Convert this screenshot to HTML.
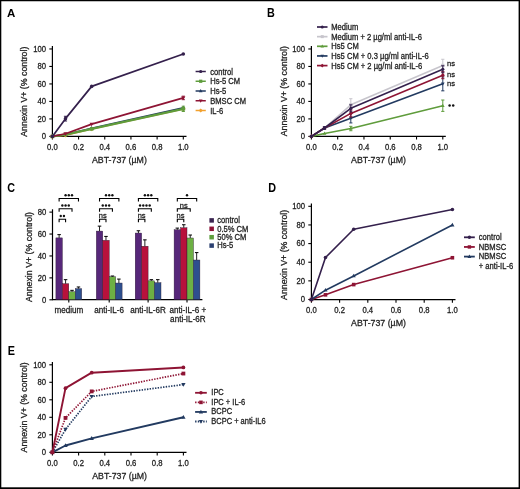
<!DOCTYPE html>
<html><head><meta charset="utf-8"><style>
html,body{margin:0;padding:0;background:#fff;width:520px;height:489px;overflow:hidden;}
svg text{font-family:"Liberation Sans", sans-serif;}
</style></head><body>
<svg width="520" height="489" viewBox="0 0 520 489" style="position:absolute;left:0;top:0;will-change:transform" font-family='"Liberation Sans", sans-serif'>
<text transform="translate(7.10,16.90) scale(1.0,1.0)" font-size="11.5" text-anchor="start" fill="#000" stroke="#000" stroke-width="0" font-weight="bold" >A</text>
<line x1="52.40" y1="46.00" x2="52.40" y2="136.90" stroke="#000" stroke-width="1.2" />
<line x1="49.30" y1="136.40" x2="52.40" y2="136.40" stroke="#000" stroke-width="1.1" />
<text transform="translate(46.10,139.30) scale(1.0,1.09)" font-size="7.7" text-anchor="end" fill="#222" stroke="#222" stroke-width="0.26" font-weight="normal" >0</text>
<line x1="49.30" y1="118.91" x2="52.40" y2="118.91" stroke="#000" stroke-width="1.1" />
<text transform="translate(46.10,121.81) scale(1.0,1.09)" font-size="7.7" text-anchor="end" fill="#222" stroke="#222" stroke-width="0.26" font-weight="normal" >20</text>
<line x1="49.30" y1="101.42" x2="52.40" y2="101.42" stroke="#000" stroke-width="1.1" />
<text transform="translate(46.10,104.32) scale(1.0,1.09)" font-size="7.7" text-anchor="end" fill="#222" stroke="#222" stroke-width="0.26" font-weight="normal" >40</text>
<line x1="49.30" y1="83.94" x2="52.40" y2="83.94" stroke="#000" stroke-width="1.1" />
<text transform="translate(46.10,86.84) scale(1.0,1.09)" font-size="7.7" text-anchor="end" fill="#222" stroke="#222" stroke-width="0.26" font-weight="normal" >60</text>
<line x1="49.30" y1="66.45" x2="52.40" y2="66.45" stroke="#000" stroke-width="1.1" />
<text transform="translate(46.10,69.35) scale(1.0,1.09)" font-size="7.7" text-anchor="end" fill="#222" stroke="#222" stroke-width="0.26" font-weight="normal" >80</text>
<line x1="49.30" y1="48.96" x2="52.40" y2="48.96" stroke="#000" stroke-width="1.1" />
<text transform="translate(46.10,51.86) scale(1.0,1.09)" font-size="7.7" text-anchor="end" fill="#222" stroke="#222" stroke-width="0.26" font-weight="normal" >100</text>
<line x1="51.80" y1="136.40" x2="186.50" y2="136.40" stroke="#000" stroke-width="1.2" />
<line x1="52.40" y1="136.40" x2="52.40" y2="139.50" stroke="#000" stroke-width="1.1" />
<text transform="translate(52.40,149.75) scale(1.0,1.09)" font-size="7.7" text-anchor="middle" fill="#222" stroke="#222" stroke-width="0.26" font-weight="normal" >0.0</text>
<line x1="78.58" y1="136.40" x2="78.58" y2="139.50" stroke="#000" stroke-width="1.1" />
<text transform="translate(78.58,149.75) scale(1.0,1.09)" font-size="7.7" text-anchor="middle" fill="#222" stroke="#222" stroke-width="0.26" font-weight="normal" >0.2</text>
<line x1="104.76" y1="136.40" x2="104.76" y2="139.50" stroke="#000" stroke-width="1.1" />
<text transform="translate(104.76,149.75) scale(1.0,1.09)" font-size="7.7" text-anchor="middle" fill="#222" stroke="#222" stroke-width="0.26" font-weight="normal" >0.4</text>
<line x1="130.94" y1="136.40" x2="130.94" y2="139.50" stroke="#000" stroke-width="1.1" />
<text transform="translate(130.94,149.75) scale(1.0,1.09)" font-size="7.7" text-anchor="middle" fill="#222" stroke="#222" stroke-width="0.26" font-weight="normal" >0.6</text>
<line x1="157.12" y1="136.40" x2="157.12" y2="139.50" stroke="#000" stroke-width="1.1" />
<text transform="translate(157.12,149.75) scale(1.0,1.09)" font-size="7.7" text-anchor="middle" fill="#222" stroke="#222" stroke-width="0.26" font-weight="normal" >0.8</text>
<line x1="183.30" y1="136.40" x2="183.30" y2="139.50" stroke="#000" stroke-width="1.1" />
<text transform="translate(183.30,149.75) scale(1.0,1.09)" font-size="7.7" text-anchor="middle" fill="#222" stroke="#222" stroke-width="0.26" font-weight="normal" >1.0</text>
<text transform="translate(119.40,162.90) scale(1.0,1.09)" font-size="8.8" text-anchor="middle" fill="#222" stroke="#222" stroke-width="0.26" font-weight="normal" >ABT-737 (µM)</text>
<text x="0" y="0" font-size="8.8" text-anchor="middle" fill="#222" stroke="#222" stroke-width="0.26" transform="translate(27.10,91.70) rotate(-90) scale(1,1.09)">Annexin V+ (% control)</text>
<polyline points="52.40,136.40 65.49,135.09 91.67,128.97 183.30,108.86" fill="none" stroke="#f2a12e" stroke-width="1.7" stroke-linejoin="round"/>
<polygon points="52.40,134.06 54.74,136.40 52.40,138.74 50.06,136.40" fill="#f2a12e"/>
<polygon points="65.49,132.75 67.83,135.09 65.49,137.43 63.15,135.09" fill="#f2a12e"/>
<polygon points="91.67,126.63 94.01,128.97 91.67,131.31 89.33,128.97" fill="#f2a12e"/>
<polygon points="183.30,106.52 185.64,108.86 183.30,111.20 180.96,108.86" fill="#f2a12e"/>
<polyline points="52.40,136.40 65.49,134.65 91.67,128.27 183.30,107.72" fill="none" stroke="#223a60" stroke-width="1.7" stroke-linejoin="round"/>
<polygon points="52.40,134.24 54.47,137.84 50.33,137.84" fill="#223a60"/>
<polygon points="65.49,132.49 67.56,136.09 63.42,136.09" fill="#223a60"/>
<polygon points="91.67,126.11 93.74,129.71 89.60,129.71" fill="#223a60"/>
<polygon points="183.30,105.56 185.37,109.16 181.23,109.16" fill="#223a60"/>
<polyline points="52.40,136.40 65.49,134.65 91.67,128.88 183.30,108.86" fill="none" stroke="#5f9c3c" stroke-width="2.1" stroke-linejoin="round"/>
<rect x="50.60" y="134.60" width="3.60" height="3.60" fill="#5f9c3c"/>
<rect x="63.69" y="132.85" width="3.60" height="3.60" fill="#5f9c3c"/>
<rect x="89.87" y="127.08" width="3.60" height="3.60" fill="#5f9c3c"/>
<line x1="183.30" y1="106.23" x2="183.30" y2="111.48" stroke="#5f9c3c" stroke-width="1" />
<line x1="181.70" y1="106.23" x2="184.90" y2="106.23" stroke="#5f9c3c" stroke-width="1" />
<line x1="181.70" y1="111.48" x2="184.90" y2="111.48" stroke="#5f9c3c" stroke-width="1" />
<rect x="181.50" y="107.06" width="3.60" height="3.60" fill="#5f9c3c"/>
<polyline points="52.40,136.40 65.49,133.78 91.67,124.16 183.30,97.93" fill="none" stroke="#8e1434" stroke-width="1.7" stroke-linejoin="round"/>
<polygon points="52.40,138.56 54.47,134.96 50.33,134.96" fill="#8e1434"/>
<polygon points="65.49,135.94 67.56,132.34 63.42,132.34" fill="#8e1434"/>
<polygon points="91.67,126.32 93.74,122.72 89.60,122.72" fill="#8e1434"/>
<line x1="183.30" y1="96.18" x2="183.30" y2="99.68" stroke="#8e1434" stroke-width="1" />
<line x1="181.70" y1="96.18" x2="184.90" y2="96.18" stroke="#8e1434" stroke-width="1" />
<line x1="181.70" y1="99.68" x2="184.90" y2="99.68" stroke="#8e1434" stroke-width="1" />
<polygon points="183.30,100.09 185.37,96.49 181.23,96.49" fill="#8e1434"/>
<polyline points="52.40,136.40 65.49,118.65 91.67,86.38 183.30,54.03" fill="none" stroke="#34204c" stroke-width="1.7" stroke-linejoin="round"/>
<circle cx="52.40" cy="136.40" r="1.80" fill="#34204c"/>
<line x1="65.49" y1="116.29" x2="65.49" y2="121.01" stroke="#34204c" stroke-width="1" />
<line x1="63.89" y1="116.29" x2="67.09" y2="116.29" stroke="#34204c" stroke-width="1" />
<line x1="63.89" y1="121.01" x2="67.09" y2="121.01" stroke="#34204c" stroke-width="1" />
<circle cx="65.49" cy="118.65" r="1.80" fill="#34204c"/>
<circle cx="91.67" cy="86.38" r="1.80" fill="#34204c"/>
<circle cx="183.30" cy="54.03" r="1.80" fill="#34204c"/>
<line x1="195.60" y1="71.50" x2="205.80" y2="71.50" stroke="#34204c" stroke-width="1.5" />
<circle cx="200.70" cy="71.50" r="1.60" fill="#34204c"/>
<text transform="translate(210.20,74.50) scale(1.0,1.09)" font-size="7.6" text-anchor="start" fill="#222" stroke="#222" stroke-width="0.26" font-weight="normal" >control</text>
<line x1="195.60" y1="81.25" x2="205.80" y2="81.25" stroke="#5f9c3c" stroke-width="1.5" />
<rect x="199.10" y="79.65" width="3.20" height="3.20" fill="#5f9c3c"/>
<text transform="translate(210.20,84.25) scale(1.0,1.09)" font-size="7.6" text-anchor="start" fill="#222" stroke="#222" stroke-width="0.26" font-weight="normal" >Hs-5 CM</text>
<line x1="195.60" y1="91.00" x2="205.80" y2="91.00" stroke="#223a60" stroke-width="1.5" />
<polygon points="200.70,89.08 202.54,92.28 198.86,92.28" fill="#223a60"/>
<text transform="translate(210.20,94.00) scale(1.0,1.09)" font-size="7.6" text-anchor="start" fill="#222" stroke="#222" stroke-width="0.26" font-weight="normal" >Hs-5</text>
<line x1="195.60" y1="100.75" x2="205.80" y2="100.75" stroke="#8e1434" stroke-width="1.5" />
<polygon points="200.70,102.67 202.54,99.47 198.86,99.47" fill="#8e1434"/>
<text transform="translate(210.20,103.75) scale(1.0,1.09)" font-size="7.6" text-anchor="start" fill="#222" stroke="#222" stroke-width="0.26" font-weight="normal" >BMSC CM</text>
<line x1="195.60" y1="110.50" x2="205.80" y2="110.50" stroke="#f2a12e" stroke-width="1.5" />
<polygon points="200.70,108.42 202.78,110.50 200.70,112.58 198.62,110.50" fill="#f2a12e"/>
<text transform="translate(210.20,113.50) scale(1.0,1.09)" font-size="7.6" text-anchor="start" fill="#222" stroke="#222" stroke-width="0.26" font-weight="normal" >IL-6</text>
<text transform="translate(266.90,17.40) scale(0.94,1.08)" font-size="11.5" text-anchor="start" fill="#000" stroke="#000" stroke-width="0" font-weight="bold" >B</text>
<line x1="311.40" y1="46.00" x2="311.40" y2="136.90" stroke="#000" stroke-width="1.2" />
<line x1="308.30" y1="136.40" x2="311.40" y2="136.40" stroke="#000" stroke-width="1.1" />
<text transform="translate(305.10,139.30) scale(1.0,1.09)" font-size="7.7" text-anchor="end" fill="#222" stroke="#222" stroke-width="0.26" font-weight="normal" >0</text>
<line x1="308.30" y1="118.91" x2="311.40" y2="118.91" stroke="#000" stroke-width="1.1" />
<text transform="translate(305.10,121.81) scale(1.0,1.09)" font-size="7.7" text-anchor="end" fill="#222" stroke="#222" stroke-width="0.26" font-weight="normal" >20</text>
<line x1="308.30" y1="101.42" x2="311.40" y2="101.42" stroke="#000" stroke-width="1.1" />
<text transform="translate(305.10,104.32) scale(1.0,1.09)" font-size="7.7" text-anchor="end" fill="#222" stroke="#222" stroke-width="0.26" font-weight="normal" >40</text>
<line x1="308.30" y1="83.94" x2="311.40" y2="83.94" stroke="#000" stroke-width="1.1" />
<text transform="translate(305.10,86.84) scale(1.0,1.09)" font-size="7.7" text-anchor="end" fill="#222" stroke="#222" stroke-width="0.26" font-weight="normal" >60</text>
<line x1="308.30" y1="66.45" x2="311.40" y2="66.45" stroke="#000" stroke-width="1.1" />
<text transform="translate(305.10,69.35) scale(1.0,1.09)" font-size="7.7" text-anchor="end" fill="#222" stroke="#222" stroke-width="0.26" font-weight="normal" >80</text>
<line x1="308.30" y1="48.96" x2="311.40" y2="48.96" stroke="#000" stroke-width="1.1" />
<text transform="translate(305.10,51.86) scale(1.0,1.09)" font-size="7.7" text-anchor="end" fill="#222" stroke="#222" stroke-width="0.26" font-weight="normal" >100</text>
<line x1="310.80" y1="136.40" x2="445.80" y2="136.40" stroke="#000" stroke-width="1.2" />
<line x1="311.40" y1="136.40" x2="311.40" y2="139.50" stroke="#000" stroke-width="1.1" />
<text transform="translate(311.40,149.75) scale(1.0,1.09)" font-size="7.7" text-anchor="middle" fill="#222" stroke="#222" stroke-width="0.26" font-weight="normal" >0.0</text>
<line x1="337.68" y1="136.40" x2="337.68" y2="139.50" stroke="#000" stroke-width="1.1" />
<text transform="translate(337.68,149.75) scale(1.0,1.09)" font-size="7.7" text-anchor="middle" fill="#222" stroke="#222" stroke-width="0.26" font-weight="normal" >0.2</text>
<line x1="363.96" y1="136.40" x2="363.96" y2="139.50" stroke="#000" stroke-width="1.1" />
<text transform="translate(363.96,149.75) scale(1.0,1.09)" font-size="7.7" text-anchor="middle" fill="#222" stroke="#222" stroke-width="0.26" font-weight="normal" >0.4</text>
<line x1="390.24" y1="136.40" x2="390.24" y2="139.50" stroke="#000" stroke-width="1.1" />
<text transform="translate(390.24,149.75) scale(1.0,1.09)" font-size="7.7" text-anchor="middle" fill="#222" stroke="#222" stroke-width="0.26" font-weight="normal" >0.6</text>
<line x1="416.52" y1="136.40" x2="416.52" y2="139.50" stroke="#000" stroke-width="1.1" />
<text transform="translate(416.52,149.75) scale(1.0,1.09)" font-size="7.7" text-anchor="middle" fill="#222" stroke="#222" stroke-width="0.26" font-weight="normal" >0.8</text>
<line x1="442.80" y1="136.40" x2="442.80" y2="139.50" stroke="#000" stroke-width="1.1" />
<text transform="translate(442.80,149.75) scale(1.0,1.09)" font-size="7.7" text-anchor="middle" fill="#222" stroke="#222" stroke-width="0.26" font-weight="normal" >1.0</text>
<text transform="translate(378.50,162.90) scale(1.0,1.09)" font-size="8.8" text-anchor="middle" fill="#222" stroke="#222" stroke-width="0.26" font-weight="normal" >ABT-737 (µM)</text>
<text x="0" y="0" font-size="8.8" text-anchor="middle" fill="#222" stroke="#222" stroke-width="0.26" transform="translate(286.80,91.20) rotate(-90) scale(1,1.09)">Annexin V+ (% control)</text>
<polyline points="311.40,136.40 324.54,128.01 350.82,104.83 442.80,65.40" fill="none" stroke="#c7c5cc" stroke-width="1.6" stroke-linejoin="round"/>
<rect x="309.80" y="134.80" width="3.20" height="3.20" fill="#c7c5cc"/>
<rect x="322.94" y="126.41" width="3.20" height="3.20" fill="#c7c5cc"/>
<line x1="350.82" y1="98.71" x2="350.82" y2="110.95" stroke="#c7c5cc" stroke-width="1" />
<line x1="349.22" y1="98.71" x2="352.42" y2="98.71" stroke="#c7c5cc" stroke-width="1" />
<line x1="349.22" y1="110.95" x2="352.42" y2="110.95" stroke="#c7c5cc" stroke-width="1" />
<rect x="349.22" y="103.23" width="3.20" height="3.20" fill="#c7c5cc"/>
<line x1="442.80" y1="59.28" x2="442.80" y2="71.52" stroke="#c7c5cc" stroke-width="1" />
<line x1="441.20" y1="59.28" x2="444.40" y2="59.28" stroke="#c7c5cc" stroke-width="1" />
<line x1="441.20" y1="71.52" x2="444.40" y2="71.52" stroke="#c7c5cc" stroke-width="1" />
<rect x="441.20" y="63.80" width="3.20" height="3.20" fill="#c7c5cc"/>
<polyline points="311.40,136.40 324.54,133.51 350.82,128.53 442.80,105.71" fill="none" stroke="#5f9c3c" stroke-width="1.6" stroke-linejoin="round"/>
<polygon points="311.40,134.48 313.24,137.68 309.56,137.68" fill="#5f9c3c"/>
<polygon points="324.54,131.59 326.38,134.79 322.70,134.79" fill="#5f9c3c"/>
<line x1="350.82" y1="126.34" x2="350.82" y2="130.72" stroke="#5f9c3c" stroke-width="1" />
<line x1="349.22" y1="126.34" x2="352.42" y2="126.34" stroke="#5f9c3c" stroke-width="1" />
<line x1="349.22" y1="130.72" x2="352.42" y2="130.72" stroke="#5f9c3c" stroke-width="1" />
<polygon points="350.82,126.61 352.66,129.81 348.98,129.81" fill="#5f9c3c"/>
<line x1="442.80" y1="100.02" x2="442.80" y2="111.39" stroke="#5f9c3c" stroke-width="1" />
<line x1="441.20" y1="100.02" x2="444.40" y2="100.02" stroke="#5f9c3c" stroke-width="1" />
<line x1="441.20" y1="111.39" x2="444.40" y2="111.39" stroke="#5f9c3c" stroke-width="1" />
<polygon points="442.80,103.79 444.64,106.99 440.96,106.99" fill="#5f9c3c"/>
<polyline points="311.40,136.40 324.54,128.01 350.82,118.13 442.80,83.85" fill="none" stroke="#223a60" stroke-width="1.6" stroke-linejoin="round"/>
<polygon points="311.40,138.32 313.24,135.12 309.56,135.12" fill="#223a60"/>
<polygon points="324.54,129.93 326.38,126.73 322.70,126.73" fill="#223a60"/>
<line x1="350.82" y1="113.32" x2="350.82" y2="122.93" stroke="#223a60" stroke-width="1" />
<line x1="349.22" y1="113.32" x2="352.42" y2="113.32" stroke="#223a60" stroke-width="1" />
<line x1="349.22" y1="122.93" x2="352.42" y2="122.93" stroke="#223a60" stroke-width="1" />
<polygon points="350.82,120.05 352.66,116.85 348.98,116.85" fill="#223a60"/>
<line x1="442.80" y1="76.85" x2="442.80" y2="90.84" stroke="#223a60" stroke-width="1" />
<line x1="441.20" y1="76.85" x2="444.40" y2="76.85" stroke="#223a60" stroke-width="1" />
<line x1="441.20" y1="90.84" x2="444.40" y2="90.84" stroke="#223a60" stroke-width="1" />
<polygon points="442.80,85.77 444.64,82.57 440.96,82.57" fill="#223a60"/>
<polyline points="311.40,136.40 324.54,128.01 350.82,113.40 442.80,75.19" fill="none" stroke="#8e1434" stroke-width="1.6" stroke-linejoin="round"/>
<polygon points="311.40,134.32 313.48,136.40 311.40,138.48 309.32,136.40" fill="#8e1434"/>
<polygon points="324.54,125.93 326.62,128.01 324.54,130.09 322.46,128.01" fill="#8e1434"/>
<line x1="350.82" y1="109.91" x2="350.82" y2="116.90" stroke="#8e1434" stroke-width="1" />
<line x1="349.22" y1="109.91" x2="352.42" y2="109.91" stroke="#8e1434" stroke-width="1" />
<line x1="349.22" y1="116.90" x2="352.42" y2="116.90" stroke="#8e1434" stroke-width="1" />
<polygon points="350.82,111.32 352.90,113.40 350.82,115.48 348.74,113.40" fill="#8e1434"/>
<line x1="442.80" y1="71.69" x2="442.80" y2="78.69" stroke="#8e1434" stroke-width="1" />
<line x1="441.20" y1="71.69" x2="444.40" y2="71.69" stroke="#8e1434" stroke-width="1" />
<line x1="441.20" y1="78.69" x2="444.40" y2="78.69" stroke="#8e1434" stroke-width="1" />
<polygon points="442.80,73.11 444.88,75.19 442.80,77.27 440.72,75.19" fill="#8e1434"/>
<polyline points="311.40,136.40 324.54,128.01 350.82,108.33 442.80,69.25" fill="none" stroke="#34204c" stroke-width="1.6" stroke-linejoin="round"/>
<circle cx="311.40" cy="136.40" r="1.60" fill="#34204c"/>
<line x1="324.54" y1="126.69" x2="324.54" y2="129.32" stroke="#34204c" stroke-width="1" />
<line x1="322.94" y1="126.69" x2="326.14" y2="126.69" stroke="#34204c" stroke-width="1" />
<line x1="322.94" y1="129.32" x2="326.14" y2="129.32" stroke="#34204c" stroke-width="1" />
<circle cx="324.54" cy="128.01" r="1.60" fill="#34204c"/>
<line x1="350.82" y1="104.83" x2="350.82" y2="111.83" stroke="#34204c" stroke-width="1" />
<line x1="349.22" y1="104.83" x2="352.42" y2="104.83" stroke="#34204c" stroke-width="1" />
<line x1="349.22" y1="111.83" x2="352.42" y2="111.83" stroke="#34204c" stroke-width="1" />
<circle cx="350.82" cy="108.33" r="1.60" fill="#34204c"/>
<line x1="442.80" y1="65.75" x2="442.80" y2="72.74" stroke="#34204c" stroke-width="1" />
<line x1="441.20" y1="65.75" x2="444.40" y2="65.75" stroke="#34204c" stroke-width="1" />
<line x1="441.20" y1="72.74" x2="444.40" y2="72.74" stroke="#34204c" stroke-width="1" />
<circle cx="442.80" cy="69.25" r="1.60" fill="#34204c"/>
<line x1="317.00" y1="27.00" x2="327.50" y2="27.00" stroke="#34204c" stroke-width="1.7" />
<circle cx="322.25" cy="27.00" r="1.50" fill="#34204c"/>
<text transform="translate(331.30,30.00) scale(1.0,1.09)" font-size="7.6" text-anchor="start" fill="#222" stroke="#222" stroke-width="0.26" font-weight="normal" >Medium</text>
<line x1="317.00" y1="36.65" x2="327.50" y2="36.65" stroke="#c7c5cc" stroke-width="1.7" />
<rect x="320.75" y="35.15" width="3.00" height="3.00" fill="#c7c5cc"/>
<text transform="translate(331.30,39.65) scale(1.0,1.09)" font-size="7.6" text-anchor="start" fill="#222" stroke="#222" stroke-width="0.26" font-weight="normal" >Medium + 2 µg/ml anti-IL-6</text>
<line x1="317.00" y1="46.30" x2="327.50" y2="46.30" stroke="#5f9c3c" stroke-width="1.7" />
<polygon points="322.25,44.50 323.98,47.50 320.52,47.50" fill="#5f9c3c"/>
<text transform="translate(331.30,49.30) scale(1.0,1.09)" font-size="7.6" text-anchor="start" fill="#222" stroke="#222" stroke-width="0.26" font-weight="normal" >Hs5 CM</text>
<line x1="317.00" y1="55.95" x2="327.50" y2="55.95" stroke="#223a60" stroke-width="1.7" />
<polygon points="322.25,57.75 323.98,54.75 320.52,54.75" fill="#223a60"/>
<text transform="translate(331.30,58.95) scale(1.0,1.09)" font-size="7.6" text-anchor="start" fill="#222" stroke="#222" stroke-width="0.26" font-weight="normal" >Hs5 CM + 0.3 µg/ml anti-IL-6</text>
<line x1="317.00" y1="65.60" x2="327.50" y2="65.60" stroke="#8e1434" stroke-width="1.7" />
<polygon points="322.25,63.65 324.20,65.60 322.25,67.55 320.30,65.60" fill="#8e1434"/>
<text transform="translate(331.30,68.60) scale(1.0,1.09)" font-size="7.6" text-anchor="start" fill="#222" stroke="#222" stroke-width="0.26" font-weight="normal" >Hs5 CM + 2 µg/ml anti-IL-6</text>
<text transform="translate(447.00,66.00) scale(1.0,1.0)" font-size="7.6" text-anchor="start" fill="#222" stroke="#222" stroke-width="0.26" font-weight="normal" >ns</text>
<text transform="translate(447.00,77.10) scale(1.0,1.0)" font-size="7.6" text-anchor="start" fill="#222" stroke="#222" stroke-width="0.26" font-weight="normal" >ns</text>
<text transform="translate(447.00,85.60) scale(1.0,1.0)" font-size="7.6" text-anchor="start" fill="#222" stroke="#222" stroke-width="0.26" font-weight="normal" >ns</text>
<circle cx="449.6" cy="105.4" r="1.25" fill="#111"/>
<circle cx="453.2" cy="105.4" r="1.25" fill="#111"/>
<text transform="translate(7.30,191.90) scale(0.94,1.08)" font-size="11.5" text-anchor="start" fill="#000" stroke="#000" stroke-width="0" font-weight="bold" >C</text>
<line x1="52.50" y1="209.30" x2="52.50" y2="300.10" stroke="#000" stroke-width="1.2" />
<line x1="49.40" y1="299.80" x2="52.50" y2="299.80" stroke="#000" stroke-width="1.1" />
<text transform="translate(46.20,302.70) scale(1.0,1.09)" font-size="7.7" text-anchor="end" fill="#222" stroke="#222" stroke-width="0.26" font-weight="normal" >0</text>
<line x1="49.40" y1="277.88" x2="52.50" y2="277.88" stroke="#000" stroke-width="1.1" />
<text transform="translate(46.20,280.78) scale(1.0,1.09)" font-size="7.7" text-anchor="end" fill="#222" stroke="#222" stroke-width="0.26" font-weight="normal" >20</text>
<line x1="49.40" y1="255.96" x2="52.50" y2="255.96" stroke="#000" stroke-width="1.1" />
<text transform="translate(46.20,258.86) scale(1.0,1.09)" font-size="7.7" text-anchor="end" fill="#222" stroke="#222" stroke-width="0.26" font-weight="normal" >40</text>
<line x1="49.40" y1="234.04" x2="52.50" y2="234.04" stroke="#000" stroke-width="1.1" />
<text transform="translate(46.20,236.94) scale(1.0,1.09)" font-size="7.7" text-anchor="end" fill="#222" stroke="#222" stroke-width="0.26" font-weight="normal" >60</text>
<line x1="49.40" y1="212.12" x2="52.50" y2="212.12" stroke="#000" stroke-width="1.1" />
<text transform="translate(46.20,215.02) scale(1.0,1.09)" font-size="7.7" text-anchor="end" fill="#222" stroke="#222" stroke-width="0.26" font-weight="normal" >80</text>
<line x1="51.90" y1="299.60" x2="202.40" y2="299.60" stroke="#000" stroke-width="1.2" />
<line x1="68.80" y1="299.60" x2="68.80" y2="302.60" stroke="#000" stroke-width="1.1" />
<rect x="55.90" y="237.88" width="6.45" height="61.72" fill="#57277a" stroke="#2a1a30" stroke-width="0.4"/>
<line x1="59.12" y1="234.59" x2="59.12" y2="237.88" stroke="#222" stroke-width="1" />
<line x1="57.38" y1="234.59" x2="60.88" y2="234.59" stroke="#111" stroke-width="1.1" />
<rect x="62.35" y="283.69" width="6.45" height="15.91" fill="#b8113c" stroke="#2a1a30" stroke-width="0.4"/>
<line x1="65.58" y1="279.63" x2="65.58" y2="283.69" stroke="#222" stroke-width="1" />
<line x1="63.83" y1="279.63" x2="67.33" y2="279.63" stroke="#111" stroke-width="1.1" />
<rect x="68.80" y="291.69" width="6.45" height="7.91" fill="#6db044" stroke="#2a1a30" stroke-width="0.4"/>
<line x1="72.02" y1="290.37" x2="72.02" y2="291.69" stroke="#222" stroke-width="1" />
<line x1="70.27" y1="290.37" x2="73.77" y2="290.37" stroke="#111" stroke-width="1.1" />
<rect x="75.25" y="288.62" width="6.45" height="10.98" fill="#2e4f8e" stroke="#2a1a30" stroke-width="0.4"/>
<line x1="78.47" y1="286.98" x2="78.47" y2="288.62" stroke="#222" stroke-width="1" />
<line x1="76.72" y1="286.98" x2="80.22" y2="286.98" stroke="#111" stroke-width="1.1" />
<line x1="109.20" y1="299.60" x2="109.20" y2="302.60" stroke="#000" stroke-width="1.1" />
<rect x="96.30" y="231.08" width="6.45" height="68.52" fill="#57277a" stroke="#2a1a30" stroke-width="0.4"/>
<line x1="99.52" y1="226.15" x2="99.52" y2="231.08" stroke="#222" stroke-width="1" />
<line x1="97.77" y1="226.15" x2="101.27" y2="226.15" stroke="#111" stroke-width="1.1" />
<rect x="102.75" y="240.29" width="6.45" height="59.31" fill="#b8113c" stroke="#2a1a30" stroke-width="0.4"/>
<line x1="105.97" y1="236.45" x2="105.97" y2="240.29" stroke="#222" stroke-width="1" />
<line x1="104.22" y1="236.45" x2="107.72" y2="236.45" stroke="#111" stroke-width="1.1" />
<rect x="109.20" y="276.78" width="6.45" height="22.82" fill="#6db044" stroke="#2a1a30" stroke-width="0.4"/>
<line x1="112.42" y1="276.02" x2="112.42" y2="276.78" stroke="#222" stroke-width="1" />
<line x1="110.67" y1="276.02" x2="114.17" y2="276.02" stroke="#111" stroke-width="1.1" />
<rect x="115.65" y="283.03" width="6.45" height="16.57" fill="#2e4f8e" stroke="#2a1a30" stroke-width="0.4"/>
<line x1="118.88" y1="279.09" x2="118.88" y2="283.03" stroke="#222" stroke-width="1" />
<line x1="117.12" y1="279.09" x2="120.62" y2="279.09" stroke="#111" stroke-width="1.1" />
<line x1="148.10" y1="299.60" x2="148.10" y2="302.60" stroke="#000" stroke-width="1.1" />
<rect x="135.20" y="233.05" width="6.45" height="66.55" fill="#57277a" stroke="#2a1a30" stroke-width="0.4"/>
<line x1="138.42" y1="230.75" x2="138.42" y2="233.05" stroke="#222" stroke-width="1" />
<line x1="136.67" y1="230.75" x2="140.17" y2="230.75" stroke="#111" stroke-width="1.1" />
<rect x="141.65" y="246.21" width="6.45" height="53.39" fill="#b8113c" stroke="#2a1a30" stroke-width="0.4"/>
<line x1="144.87" y1="239.85" x2="144.87" y2="246.21" stroke="#222" stroke-width="1" />
<line x1="143.12" y1="239.85" x2="146.62" y2="239.85" stroke="#111" stroke-width="1.1" />
<rect x="148.10" y="280.84" width="6.45" height="18.76" fill="#6db044" stroke="#2a1a30" stroke-width="0.4"/>
<line x1="151.32" y1="279.63" x2="151.32" y2="280.84" stroke="#222" stroke-width="1" />
<line x1="149.57" y1="279.63" x2="153.07" y2="279.63" stroke="#111" stroke-width="1.1" />
<rect x="154.55" y="282.70" width="6.45" height="16.90" fill="#2e4f8e" stroke="#2a1a30" stroke-width="0.4"/>
<line x1="157.77" y1="279.63" x2="157.77" y2="282.70" stroke="#222" stroke-width="1" />
<line x1="156.02" y1="279.63" x2="159.52" y2="279.63" stroke="#111" stroke-width="1.1" />
<line x1="187.00" y1="299.60" x2="187.00" y2="302.60" stroke="#000" stroke-width="1.1" />
<rect x="174.10" y="229.77" width="6.45" height="69.83" fill="#57277a" stroke="#2a1a30" stroke-width="0.4"/>
<line x1="177.32" y1="228.12" x2="177.32" y2="229.77" stroke="#222" stroke-width="1" />
<line x1="175.57" y1="228.12" x2="179.07" y2="228.12" stroke="#111" stroke-width="1.1" />
<rect x="180.55" y="227.79" width="6.45" height="71.81" fill="#b8113c" stroke="#2a1a30" stroke-width="0.4"/>
<line x1="183.77" y1="224.72" x2="183.77" y2="227.79" stroke="#222" stroke-width="1" />
<line x1="182.02" y1="224.72" x2="185.52" y2="224.72" stroke="#111" stroke-width="1.1" />
<rect x="187.00" y="237.99" width="6.45" height="61.61" fill="#6db044" stroke="#2a1a30" stroke-width="0.4"/>
<line x1="190.22" y1="235.03" x2="190.22" y2="237.99" stroke="#222" stroke-width="1" />
<line x1="188.47" y1="235.03" x2="191.97" y2="235.03" stroke="#111" stroke-width="1.1" />
<rect x="193.45" y="260.02" width="6.45" height="39.58" fill="#2e4f8e" stroke="#2a1a30" stroke-width="0.4"/>
<line x1="196.67" y1="252.56" x2="196.67" y2="260.02" stroke="#222" stroke-width="1" />
<line x1="194.92" y1="252.56" x2="198.42" y2="252.56" stroke="#111" stroke-width="1.1" />
<text transform="translate(68.80,312.70) scale(1.0,1.09)" font-size="8.1" text-anchor="middle" fill="#222" stroke="#222" stroke-width="0.26" font-weight="normal" >medium</text>
<text transform="translate(109.20,312.70) scale(1.0,1.09)" font-size="8.1" text-anchor="middle" fill="#222" stroke="#222" stroke-width="0.26" font-weight="normal" >anti-IL-6</text>
<text transform="translate(148.10,312.70) scale(1.0,1.09)" font-size="8.1" text-anchor="middle" fill="#222" stroke="#222" stroke-width="0.26" font-weight="normal" >anti-IL-6R</text>
<text transform="translate(187.80,312.70) scale(1.0,1.09)" font-size="8.1" text-anchor="middle" fill="#222" stroke="#222" stroke-width="0.26" font-weight="normal" >anti-IL-6 +</text>
<text transform="translate(187.90,322.10) scale(1.0,1.09)" font-size="8.1" text-anchor="middle" fill="#222" stroke="#222" stroke-width="0.26" font-weight="normal" >anti-IL-6R</text>
<text x="0" y="0" font-size="8.8" text-anchor="middle" fill="#222" stroke="#222" stroke-width="0.26" transform="translate(31.70,257.00) rotate(-90) scale(1,1.09)">Annexin V+ (% control)</text>
<path d="M59.12,222.25 V219.25 H65.58 V222.25" fill="none" stroke="#000" stroke-width="1.1"/>
<circle cx="60.75" cy="215.95" r="1.2" fill="#111"/>
<circle cx="63.95" cy="215.95" r="1.2" fill="#111"/>
<path d="M59.12,211.80 V208.80 H72.02 V211.80" fill="none" stroke="#000" stroke-width="1.1"/>
<circle cx="62.37" cy="205.50" r="1.2" fill="#111"/>
<circle cx="65.57" cy="205.50" r="1.2" fill="#111"/>
<circle cx="68.77" cy="205.50" r="1.2" fill="#111"/>
<path d="M59.12,201.55 V198.55 H78.47 V201.55" fill="none" stroke="#000" stroke-width="1.1"/>
<circle cx="65.60" cy="195.25" r="1.2" fill="#111"/>
<circle cx="68.80" cy="195.25" r="1.2" fill="#111"/>
<circle cx="72.00" cy="195.25" r="1.2" fill="#111"/>
<path d="M99.53,222.25 V219.25 H105.98 V222.25" fill="none" stroke="#000" stroke-width="1.1"/>
<text transform="translate(102.75,218.15) scale(1.0,1.0)" font-size="7.5" text-anchor="middle" fill="#222" stroke="#222" stroke-width="0.26" font-weight="normal" >ns</text>
<path d="M99.53,211.80 V208.80 H112.42 V211.80" fill="none" stroke="#000" stroke-width="1.1"/>
<circle cx="102.77" cy="205.50" r="1.2" fill="#111"/>
<circle cx="105.97" cy="205.50" r="1.2" fill="#111"/>
<circle cx="109.17" cy="205.50" r="1.2" fill="#111"/>
<path d="M99.53,201.55 V198.55 H118.88 V201.55" fill="none" stroke="#000" stroke-width="1.1"/>
<circle cx="106.00" cy="195.25" r="1.2" fill="#111"/>
<circle cx="109.20" cy="195.25" r="1.2" fill="#111"/>
<circle cx="112.40" cy="195.25" r="1.2" fill="#111"/>
<path d="M138.42,222.25 V219.25 H144.88 V222.25" fill="none" stroke="#000" stroke-width="1.1"/>
<text transform="translate(141.65,218.15) scale(1.0,1.0)" font-size="7.5" text-anchor="middle" fill="#222" stroke="#222" stroke-width="0.26" font-weight="normal" >ns</text>
<path d="M138.42,211.80 V208.80 H151.32 V211.80" fill="none" stroke="#000" stroke-width="1.1"/>
<circle cx="140.07" cy="205.50" r="1.2" fill="#111"/>
<circle cx="143.28" cy="205.50" r="1.2" fill="#111"/>
<circle cx="146.47" cy="205.50" r="1.2" fill="#111"/>
<circle cx="149.68" cy="205.50" r="1.2" fill="#111"/>
<path d="M138.42,201.55 V198.55 H157.78 V201.55" fill="none" stroke="#000" stroke-width="1.1"/>
<circle cx="144.90" cy="195.25" r="1.2" fill="#111"/>
<circle cx="148.10" cy="195.25" r="1.2" fill="#111"/>
<circle cx="151.30" cy="195.25" r="1.2" fill="#111"/>
<path d="M177.32,222.25 V219.25 H183.78 V222.25" fill="none" stroke="#000" stroke-width="1.1"/>
<text transform="translate(180.55,218.15) scale(1.0,1.0)" font-size="7.5" text-anchor="middle" fill="#222" stroke="#222" stroke-width="0.26" font-weight="normal" >ns</text>
<path d="M177.32,211.80 V208.80 H190.22 V211.80" fill="none" stroke="#000" stroke-width="1.1"/>
<text transform="translate(183.77,207.70) scale(1.0,1.0)" font-size="7.5" text-anchor="middle" fill="#222" stroke="#222" stroke-width="0.26" font-weight="normal" >ns</text>
<path d="M177.32,201.55 V198.55 H196.68 V201.55" fill="none" stroke="#000" stroke-width="1.1"/>
<circle cx="187.00" cy="195.25" r="1.2" fill="#111"/>
<rect x="209.4" y="218.15" width="4.5" height="4.5" fill="#3a2450"/>
<text transform="translate(217.20,223.20) scale(1.0,1.09)" font-size="7.6" text-anchor="start" fill="#222" stroke="#222" stroke-width="0.26" font-weight="normal" >control</text>
<rect x="209.4" y="226.55" width="4.5" height="4.5" fill="#8e1035"/>
<text transform="translate(217.20,231.60) scale(1.0,1.09)" font-size="7.6" text-anchor="start" fill="#222" stroke="#222" stroke-width="0.26" font-weight="normal" >0.5% CM</text>
<rect x="209.4" y="234.95" width="4.5" height="4.5" fill="#5e9e3c"/>
<text transform="translate(217.20,240.00) scale(1.0,1.09)" font-size="7.6" text-anchor="start" fill="#222" stroke="#222" stroke-width="0.26" font-weight="normal" >50% CM</text>
<rect x="209.4" y="243.35" width="4.5" height="4.5" fill="#2a3f70"/>
<text transform="translate(217.20,248.40) scale(1.0,1.09)" font-size="7.6" text-anchor="start" fill="#222" stroke="#222" stroke-width="0.26" font-weight="normal" >Hs-5</text>
<text transform="translate(268.30,191.90) scale(0.94,1.08)" font-size="11.5" text-anchor="start" fill="#000" stroke="#000" stroke-width="0" font-weight="bold" >D</text>
<line x1="311.40" y1="203.60" x2="311.40" y2="300.10" stroke="#000" stroke-width="1.2" />
<line x1="308.30" y1="299.50" x2="311.40" y2="299.50" stroke="#000" stroke-width="1.1" />
<text transform="translate(305.10,302.40) scale(1.0,1.09)" font-size="7.7" text-anchor="end" fill="#222" stroke="#222" stroke-width="0.26" font-weight="normal" >0</text>
<line x1="308.30" y1="280.86" x2="311.40" y2="280.86" stroke="#000" stroke-width="1.1" />
<text transform="translate(305.10,283.76) scale(1.0,1.09)" font-size="7.7" text-anchor="end" fill="#222" stroke="#222" stroke-width="0.26" font-weight="normal" >20</text>
<line x1="308.30" y1="262.22" x2="311.40" y2="262.22" stroke="#000" stroke-width="1.1" />
<text transform="translate(305.10,265.12) scale(1.0,1.09)" font-size="7.7" text-anchor="end" fill="#222" stroke="#222" stroke-width="0.26" font-weight="normal" >40</text>
<line x1="308.30" y1="243.58" x2="311.40" y2="243.58" stroke="#000" stroke-width="1.1" />
<text transform="translate(305.10,246.48) scale(1.0,1.09)" font-size="7.7" text-anchor="end" fill="#222" stroke="#222" stroke-width="0.26" font-weight="normal" >60</text>
<line x1="308.30" y1="224.94" x2="311.40" y2="224.94" stroke="#000" stroke-width="1.1" />
<text transform="translate(305.10,227.84) scale(1.0,1.09)" font-size="7.7" text-anchor="end" fill="#222" stroke="#222" stroke-width="0.26" font-weight="normal" >80</text>
<line x1="308.30" y1="206.30" x2="311.40" y2="206.30" stroke="#000" stroke-width="1.1" />
<text transform="translate(305.10,209.20) scale(1.0,1.09)" font-size="7.7" text-anchor="end" fill="#222" stroke="#222" stroke-width="0.26" font-weight="normal" >100</text>
<line x1="310.80" y1="299.65" x2="455.50" y2="299.65" stroke="#000" stroke-width="1.2" />
<line x1="311.40" y1="299.65" x2="311.40" y2="302.75" stroke="#000" stroke-width="1.1" />
<text transform="translate(311.40,313.00) scale(1.0,1.09)" font-size="7.7" text-anchor="middle" fill="#222" stroke="#222" stroke-width="0.26" font-weight="normal" >0.0</text>
<line x1="339.60" y1="299.65" x2="339.60" y2="302.75" stroke="#000" stroke-width="1.1" />
<text transform="translate(339.60,313.00) scale(1.0,1.09)" font-size="7.7" text-anchor="middle" fill="#222" stroke="#222" stroke-width="0.26" font-weight="normal" >0.2</text>
<line x1="367.80" y1="299.65" x2="367.80" y2="302.75" stroke="#000" stroke-width="1.1" />
<text transform="translate(367.80,313.00) scale(1.0,1.09)" font-size="7.7" text-anchor="middle" fill="#222" stroke="#222" stroke-width="0.26" font-weight="normal" >0.4</text>
<line x1="396.00" y1="299.65" x2="396.00" y2="302.75" stroke="#000" stroke-width="1.1" />
<text transform="translate(396.00,313.00) scale(1.0,1.09)" font-size="7.7" text-anchor="middle" fill="#222" stroke="#222" stroke-width="0.26" font-weight="normal" >0.6</text>
<line x1="424.20" y1="299.65" x2="424.20" y2="302.75" stroke="#000" stroke-width="1.1" />
<text transform="translate(424.20,313.00) scale(1.0,1.09)" font-size="7.7" text-anchor="middle" fill="#222" stroke="#222" stroke-width="0.26" font-weight="normal" >0.8</text>
<line x1="452.40" y1="299.65" x2="452.40" y2="302.75" stroke="#000" stroke-width="1.1" />
<text transform="translate(452.40,313.00) scale(1.0,1.09)" font-size="7.7" text-anchor="middle" fill="#222" stroke="#222" stroke-width="0.26" font-weight="normal" >1.0</text>
<text transform="translate(378.50,325.80) scale(1.0,1.09)" font-size="8.8" text-anchor="middle" fill="#222" stroke="#222" stroke-width="0.26" font-weight="normal" >ABT-737 (µM)</text>
<text x="0" y="0" font-size="8.8" text-anchor="middle" fill="#222" stroke="#222" stroke-width="0.26" transform="translate(286.60,254.90) rotate(-90) scale(1,1.09)">Annexin V+ (% control)</text>
<polyline points="311.40,299.50 325.50,294.84 353.70,284.59 452.40,257.75" fill="none" stroke="#8e1434" stroke-width="1.6" stroke-linejoin="round"/>
<rect x="309.60" y="297.70" width="3.60" height="3.60" fill="#8e1434"/>
<rect x="323.70" y="293.04" width="3.60" height="3.60" fill="#8e1434"/>
<rect x="351.90" y="282.79" width="3.60" height="3.60" fill="#8e1434"/>
<rect x="450.60" y="255.95" width="3.60" height="3.60" fill="#8e1434"/>
<polyline points="311.40,299.50 325.50,290.18 353.70,275.92 452.40,224.94" fill="none" stroke="#223a60" stroke-width="1.6" stroke-linejoin="round"/>
<polygon points="311.40,297.34 313.47,300.94 309.33,300.94" fill="#223a60"/>
<polygon points="325.50,288.02 327.57,291.62 323.43,291.62" fill="#223a60"/>
<polygon points="353.70,273.76 355.77,277.36 351.63,277.36" fill="#223a60"/>
<polygon points="452.40,222.78 454.47,226.38 450.33,226.38" fill="#223a60"/>
<polyline points="311.40,299.50 325.50,257.56 353.70,229.23 452.40,209.47" fill="none" stroke="#34204c" stroke-width="1.6" stroke-linejoin="round"/>
<circle cx="311.40" cy="299.50" r="1.80" fill="#34204c"/>
<circle cx="325.50" cy="257.56" r="1.80" fill="#34204c"/>
<circle cx="353.70" cy="229.23" r="1.80" fill="#34204c"/>
<circle cx="452.40" cy="209.47" r="1.80" fill="#34204c"/>
<line x1="464.00" y1="237.30" x2="474.80" y2="237.30" stroke="#34204c" stroke-width="1.8" />
<circle cx="469.40" cy="237.30" r="1.70" fill="#34204c"/>
<text transform="translate(478.80,240.10) scale(1.0,1.09)" font-size="7.6" text-anchor="start" fill="#222" stroke="#222" stroke-width="0.26" font-weight="normal" >control</text>
<line x1="464.00" y1="246.95" x2="474.80" y2="246.95" stroke="#8e1434" stroke-width="1.8" />
<rect x="467.70" y="245.25" width="3.40" height="3.40" fill="#8e1434"/>
<text transform="translate(478.80,249.75) scale(1.0,1.09)" font-size="7.6" text-anchor="start" fill="#222" stroke="#222" stroke-width="0.26" font-weight="normal" >NBMSC</text>
<line x1="464.00" y1="256.60" x2="474.80" y2="256.60" stroke="#223a60" stroke-width="1.8" />
<polygon points="469.40,254.56 471.35,257.96 467.44,257.96" fill="#223a60"/>
<text transform="translate(478.80,259.40) scale(1.0,1.09)" font-size="7.6" text-anchor="start" fill="#222" stroke="#222" stroke-width="0.26" font-weight="normal" >NBMSC</text>
<text transform="translate(478.80,269.20) scale(1.0,1.09)" font-size="7.6" text-anchor="start" fill="#222" stroke="#222" stroke-width="0.26" font-weight="normal" >+ anti-IL-6</text>
<text transform="translate(7.70,355.20) scale(0.94,1.08)" font-size="11.5" text-anchor="start" fill="#000" stroke="#000" stroke-width="0" font-weight="bold" >E</text>
<line x1="52.40" y1="361.90" x2="52.40" y2="452.80" stroke="#000" stroke-width="1.2" />
<line x1="49.30" y1="452.30" x2="52.40" y2="452.30" stroke="#000" stroke-width="1.1" />
<text transform="translate(46.10,455.20) scale(1.0,1.09)" font-size="7.7" text-anchor="end" fill="#222" stroke="#222" stroke-width="0.26" font-weight="normal" >0</text>
<line x1="49.30" y1="434.80" x2="52.40" y2="434.80" stroke="#000" stroke-width="1.1" />
<text transform="translate(46.10,437.70) scale(1.0,1.09)" font-size="7.7" text-anchor="end" fill="#222" stroke="#222" stroke-width="0.26" font-weight="normal" >20</text>
<line x1="49.30" y1="417.30" x2="52.40" y2="417.30" stroke="#000" stroke-width="1.1" />
<text transform="translate(46.10,420.20) scale(1.0,1.09)" font-size="7.7" text-anchor="end" fill="#222" stroke="#222" stroke-width="0.26" font-weight="normal" >40</text>
<line x1="49.30" y1="399.80" x2="52.40" y2="399.80" stroke="#000" stroke-width="1.1" />
<text transform="translate(46.10,402.70) scale(1.0,1.09)" font-size="7.7" text-anchor="end" fill="#222" stroke="#222" stroke-width="0.26" font-weight="normal" >60</text>
<line x1="49.30" y1="382.30" x2="52.40" y2="382.30" stroke="#000" stroke-width="1.1" />
<text transform="translate(46.10,385.20) scale(1.0,1.09)" font-size="7.7" text-anchor="end" fill="#222" stroke="#222" stroke-width="0.26" font-weight="normal" >80</text>
<line x1="49.30" y1="364.80" x2="52.40" y2="364.80" stroke="#000" stroke-width="1.1" />
<text transform="translate(46.10,367.70) scale(1.0,1.09)" font-size="7.7" text-anchor="end" fill="#222" stroke="#222" stroke-width="0.26" font-weight="normal" >100</text>
<line x1="51.80" y1="452.30" x2="186.50" y2="452.30" stroke="#000" stroke-width="1.2" />
<line x1="52.40" y1="452.30" x2="52.40" y2="455.40" stroke="#000" stroke-width="1.1" />
<text transform="translate(52.40,465.65) scale(1.0,1.09)" font-size="7.7" text-anchor="middle" fill="#222" stroke="#222" stroke-width="0.26" font-weight="normal" >0.0</text>
<line x1="78.60" y1="452.30" x2="78.60" y2="455.40" stroke="#000" stroke-width="1.1" />
<text transform="translate(78.60,465.65) scale(1.0,1.09)" font-size="7.7" text-anchor="middle" fill="#222" stroke="#222" stroke-width="0.26" font-weight="normal" >0.2</text>
<line x1="104.80" y1="452.30" x2="104.80" y2="455.40" stroke="#000" stroke-width="1.1" />
<text transform="translate(104.80,465.65) scale(1.0,1.09)" font-size="7.7" text-anchor="middle" fill="#222" stroke="#222" stroke-width="0.26" font-weight="normal" >0.4</text>
<line x1="131.00" y1="452.30" x2="131.00" y2="455.40" stroke="#000" stroke-width="1.1" />
<text transform="translate(131.00,465.65) scale(1.0,1.09)" font-size="7.7" text-anchor="middle" fill="#222" stroke="#222" stroke-width="0.26" font-weight="normal" >0.6</text>
<line x1="157.20" y1="452.30" x2="157.20" y2="455.40" stroke="#000" stroke-width="1.1" />
<text transform="translate(157.20,465.65) scale(1.0,1.09)" font-size="7.7" text-anchor="middle" fill="#222" stroke="#222" stroke-width="0.26" font-weight="normal" >0.8</text>
<line x1="183.40" y1="452.30" x2="183.40" y2="455.40" stroke="#000" stroke-width="1.1" />
<text transform="translate(183.40,465.65) scale(1.0,1.09)" font-size="7.7" text-anchor="middle" fill="#222" stroke="#222" stroke-width="0.26" font-weight="normal" >1.0</text>
<text transform="translate(119.60,478.90) scale(1.0,1.09)" font-size="8.8" text-anchor="middle" fill="#222" stroke="#222" stroke-width="0.26" font-weight="normal" >ABT-737 (µM)</text>
<text x="0" y="0" font-size="8.8" text-anchor="middle" fill="#222" stroke="#222" stroke-width="0.26" transform="translate(27.10,407.40) rotate(-90) scale(1,1.09)">Annexin V+ (% control)</text>
<polyline points="52.40,452.30 65.50,445.48 91.70,438.39 183.40,417.30" fill="none" stroke="#223a60" stroke-width="1.9" stroke-linejoin="round"/>
<polygon points="52.40,450.02 54.59,453.82 50.21,453.82" fill="#223a60"/>
<polygon points="65.50,443.20 67.69,447.00 63.31,447.00" fill="#223a60"/>
<polygon points="91.70,436.11 93.88,439.91 89.51,439.91" fill="#223a60"/>
<polygon points="183.40,415.02 185.59,418.82 181.22,418.82" fill="#223a60"/>
<polyline points="52.40,452.30 65.50,429.38 91.70,396.48 183.40,384.57" fill="none" stroke="#223a60" stroke-width="1.7" stroke-linejoin="round" stroke-dasharray="1.4,1.3"/>
<polygon points="52.40,454.58 54.59,450.78 50.21,450.78" fill="#223a60"/>
<polygon points="65.50,431.65 67.69,427.86 63.31,427.86" fill="#223a60"/>
<polygon points="91.70,398.75 93.88,394.96 89.51,394.96" fill="#223a60"/>
<polygon points="183.40,386.85 185.59,383.06 181.22,383.06" fill="#223a60"/>
<polyline points="52.40,452.30 65.50,417.91 91.70,391.40 183.40,373.55" fill="none" stroke="#8e1434" stroke-width="1.7" stroke-linejoin="round" stroke-dasharray="1.4,1.3"/>
<rect x="50.50" y="450.40" width="3.80" height="3.80" fill="#8e1434"/>
<rect x="63.60" y="416.01" width="3.80" height="3.80" fill="#8e1434"/>
<rect x="89.80" y="389.50" width="3.80" height="3.80" fill="#8e1434"/>
<rect x="181.50" y="371.65" width="3.80" height="3.80" fill="#8e1434"/>
<polyline points="52.40,452.30 65.50,388.16 91.70,372.68 183.40,367.43" fill="none" stroke="#8e1434" stroke-width="1.9" stroke-linejoin="round"/>
<circle cx="52.40" cy="452.30" r="1.90" fill="#8e1434"/>
<circle cx="65.50" cy="388.16" r="1.90" fill="#8e1434"/>
<circle cx="91.70" cy="372.68" r="1.90" fill="#8e1434"/>
<circle cx="183.40" cy="367.43" r="1.90" fill="#8e1434"/>
<line x1="195.10" y1="392.80" x2="206.80" y2="392.80" stroke="#8e1434" stroke-width="1.8" />
<circle cx="200.95" cy="392.80" r="1.80" fill="#8e1434"/>
<text transform="translate(211.30,395.30) scale(1.0,1.09)" font-size="7.5" text-anchor="start" fill="#222" stroke="#222" stroke-width="0.26" font-weight="normal" >IPC</text>
<line x1="195.10" y1="402.37" x2="206.80" y2="402.37" stroke="#8e1434" stroke-width="1.8" stroke-dasharray="1.4,1.3"/>
<rect x="199.15" y="400.57" width="3.60" height="3.60" fill="#8e1434"/>
<text transform="translate(211.30,404.87) scale(1.0,1.09)" font-size="7.5" text-anchor="start" fill="#222" stroke="#222" stroke-width="0.26" font-weight="normal" >IPC + IL-6</text>
<line x1="195.10" y1="411.94" x2="206.80" y2="411.94" stroke="#223a60" stroke-width="1.8" />
<polygon points="200.95,409.78 203.02,413.38 198.88,413.38" fill="#223a60"/>
<text transform="translate(211.30,414.44) scale(1.0,1.09)" font-size="7.5" text-anchor="start" fill="#222" stroke="#222" stroke-width="0.26" font-weight="normal" >BCPC</text>
<line x1="195.10" y1="421.51" x2="206.80" y2="421.51" stroke="#223a60" stroke-width="1.8" stroke-dasharray="1.4,1.3"/>
<polygon points="200.95,423.67 203.02,420.07 198.88,420.07" fill="#223a60"/>
<text transform="translate(211.30,424.01) scale(1.0,1.09)" font-size="7.5" text-anchor="start" fill="#222" stroke="#222" stroke-width="0.26" font-weight="normal" >BCPC + anti-IL6</text>
<rect x="0" y="0" width="520" height="1.25" fill="#000"/>
<rect x="0" y="0" width="1.3" height="489" fill="#000"/>
<rect x="518.6" y="0" width="1.4" height="489" fill="#000"/>
<rect x="0" y="487.3" width="520" height="1.7" fill="#000"/>
</svg>
</body></html>
